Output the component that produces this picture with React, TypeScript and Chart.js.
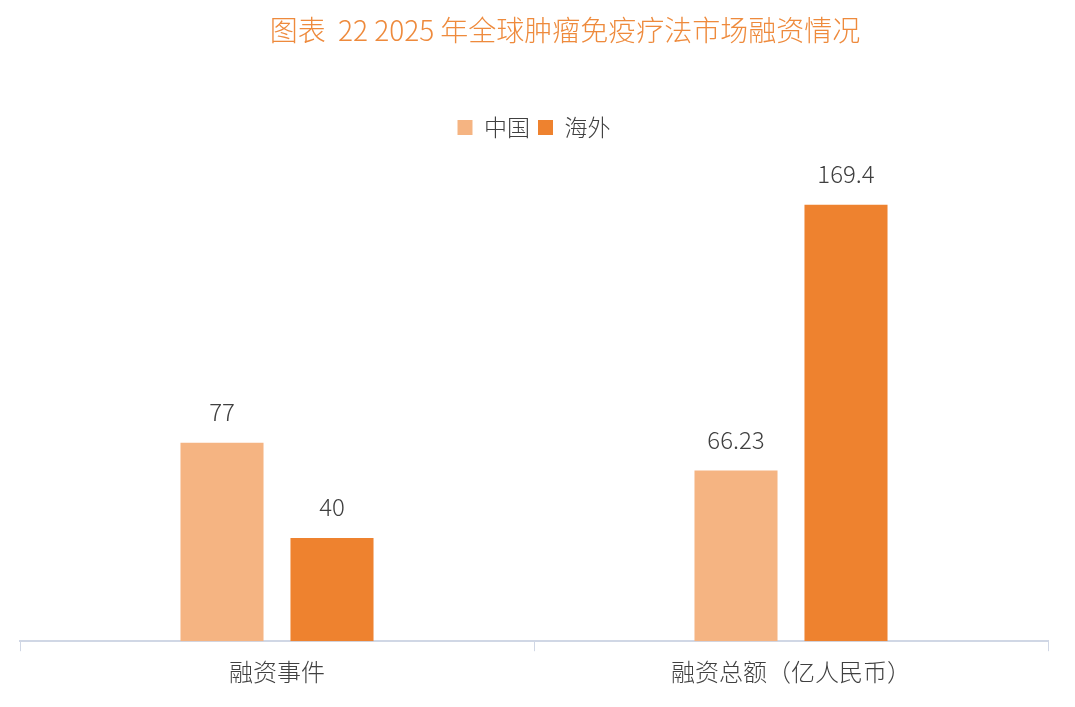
import React, { useEffect, useRef } from "react";
import { Chart, registerables } from "chart.js";

Chart.register(...registerables);

const categories = ["融资事件", "融资总额（亿人民币）"];
const chinaValues = [77, 66.23];
const overseasValues = [40, 169.4];
const seriesNames = ["中国", "海外"];
const titleText = "图表  22 2025 年全球肿瘤免疫疗法市场融资情况";

const FONT = "'Noto Sans CJK SC', 'Noto Sans', sans-serif";

export default function App() {
  const ref = useRef<HTMLCanvasElement | null>(null);
  useEffect(() => {
    document.body.style.margin = "0";
    const canvas = ref.current!;
    const titlePlugin = {
      id: "customTitle",
      afterDraw(chart: any) {
        const ctx = chart.ctx;
        ctx.save();
        ctx.font = `300 28px ${FONT}`;
        ctx.fillStyle = "#EE8A3C";
        ctx.textAlign = "center";
        ctx.textBaseline = "middle";
        ctx.fillText(titleText, 565, 30);
        ctx.restore();
      },
    };
    const labelPlugin = {
      id: "valueLabels",
      afterDatasetsDraw(chart: any) {
        const ctx = chart.ctx;
        ctx.save();
        ctx.font = `300 24px ${FONT}`;
        ctx.fillStyle = "#404040";
        ctx.textAlign = "center";
        ctx.textBaseline = "middle";
        chart.data.datasets.forEach((ds: any, i: number) => {
          const meta = chart.getDatasetMeta(i);
          meta.data.forEach((bar: any, j: number) => {
            ctx.fillText(String(ds.data[j]), bar.x, bar.y - 31);
          });
        });
        ctx.restore();
      },
    };
    const chart = new Chart(canvas, {
      type: "bar",
      data: {
        labels: categories,
        datasets: [
          {
            label: seriesNames[0],
            data: chinaValues,
            backgroundColor: "#F5B482",
            categoryPercentage: 0.428,
            barPercentage: 0.755,
          },
          {
            label: seriesNames[1],
            data: overseasValues,
            backgroundColor: "#EE822F",
            categoryPercentage: 0.428,
            barPercentage: 0.755,
          },
        ],
      },
      options: {
        animation: false,
        responsive: false,
        maintainAspectRatio: false,
        layout: { padding: { left: 20, right: 27, top: 108, bottom: 15 } },
        plugins: {
          title: { display: false },
          tooltip: { enabled: false },
          legend: {
            display: true,
            position: "top",
            labels: {
              boxWidth: 15,
              boxHeight: 15,
              padding: 8,
              color: "#404040",
              font: { family: FONT, size: 23, weight: "300" as any },
            },
          },
        },
        scales: {
          x: {
            grid: {
              display: true,
              offset: true,
              drawOnChartArea: false,
              drawTicks: true,
              tickLength: 10,
              color: "#D0D7E5",
            },
            border: { display: true, color: "#D0D7E5", width: 2 },
            ticks: {
              color: "#404040",
              padding: 6,
              font: { family: FONT, size: 24, weight: "300" as any },
            },
          },
          y: {
            display: false,
            min: 0,
            max: 191,
          },
        },
      },
      plugins: [titlePlugin, labelPlugin],
    });
    return () => chart.destroy();
  }, []);
  return (
    <div style={{ position: "absolute", left: 0, top: 0, width: 1075, height: 707 }}>
      <canvas ref={ref} width={1075} height={707} style={{ width: 1075, height: 707 }} />
    </div>
  );
}
